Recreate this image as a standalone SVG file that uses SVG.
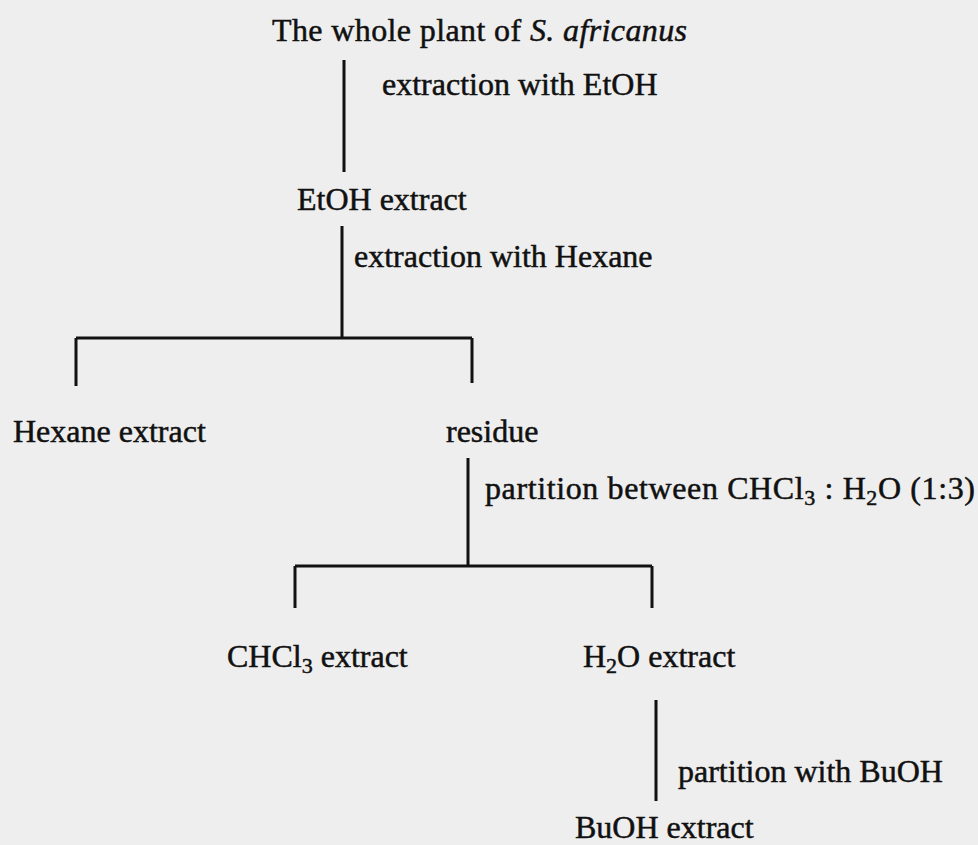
<svg xmlns="http://www.w3.org/2000/svg" width="978" height="845" viewBox="0 0 978 845">
<style>
text{font-family:"Liberation Serif","Times New Roman",serif;font-size:32px;fill:#111;stroke:#111;stroke-width:0.5}
.c{stroke:#111;stroke-width:3;fill:none}
.sub{font-size:22px}
</style>
<rect width="978" height="845" fill="#eeeeee"/>
<g id="connectors">
<path class="c" d="M344 60V172"/>
<path class="c" d="M342 226V338"/>
<path class="c" d="M76 338H472M76 338V386M472 338V383"/>
<path class="c" d="M468 458V566"/>
<path class="c" d="M295 566H652M295 566V608M652 566V608"/>
<path class="c" d="M656 700V801"/>
</g>
<g id="plant"><text x="272" y="41" textLength="415">The whole plant of  <tspan font-style="italic">S. africanus</tspan></text></g>
<g id="lbl1"><text x="382" y="95">extraction with EtOH</text></g>
<g id="etoh"><text x="297" y="210">EtOH extract</text></g>
<g id="lbl2"><text x="354" y="267">extraction with Hexane</text></g>
<g id="hexane"><text x="13" y="442">Hexane extract</text></g>
<g id="residue"><text x="446" y="442">residue</text></g>
<g id="lbl3"><text x="485" y="499" textLength="490">partition between CHCl<tspan class="sub" dy="6">3</tspan><tspan dy="-6"> : H</tspan><tspan class="sub" dy="6">2</tspan><tspan dy="-6">O (1:3)</tspan></text></g>
<g id="chcl3"><text x="227" y="667">CHCl<tspan class="sub" dy="6">3</tspan><tspan dy="-6"> extract</tspan></text></g>
<g id="h2o"><text x="583" y="667">H<tspan class="sub" dy="6">2</tspan><tspan dy="-6">O extract</tspan></text></g>
<g id="lbl4"><text x="678" y="782">partition with BuOH</text></g>
<g id="buoh"><text x="575" y="838">BuOH extract</text></g>
</svg>
